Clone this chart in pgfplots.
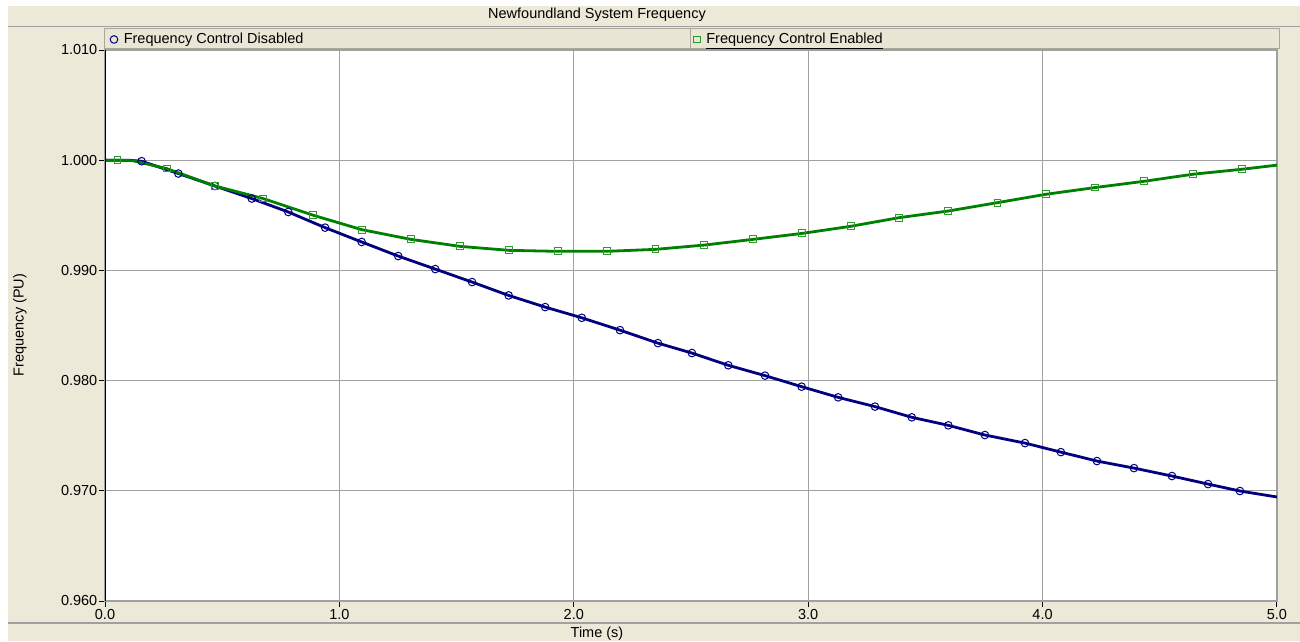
\documentclass[border=0pt]{standalone}
\usepackage{fontspec}
\setmainfont{Liberation Sans}
\usepackage{pgfplots}
\pgfplotsset{compat=1.18}
\definecolor{bg}{HTML}{ECE9D8}
\definecolor{lgbg}{HTML}{EAE6D6}
\definecolor{bord}{HTML}{ACA899}
\definecolor{gridc}{HTML}{A0A0A0}
\definecolor{navyc}{HTML}{000080}
\definecolor{greenc}{HTML}{008000}
\definecolor{sqc}{HTML}{2E9A2E}

\pgfplotstableread{
t f
0.000 1.00000
0.100 1.00000
0.156 0.99991
0.313 0.99879
0.469 0.99766
0.626 0.99652
0.782 0.99530
0.939 0.99388
1.095 0.99258
1.251 0.99130
1.409 0.99012
1.566 0.98894
1.722 0.98773
1.878 0.98667
2.034 0.98570
2.197 0.98458
2.359 0.98340
2.504 0.98250
2.659 0.98139
2.816 0.98045
2.972 0.97945
3.128 0.97848
3.285 0.97764
3.442 0.97667
3.598 0.97594
3.754 0.97506
3.925 0.97433
4.078 0.97351
4.232 0.97270
4.390 0.97206
4.552 0.97134
4.706 0.97061
4.842 0.96998
5.000 0.96944
}\disabledline

\pgfplotstableread{
t f
0.156 0.99991
0.313 0.99879
0.469 0.99766
0.626 0.99652
0.782 0.99530
0.939 0.99388
1.095 0.99258
1.251 0.99130
1.409 0.99012
1.566 0.98894
1.722 0.98773
1.878 0.98667
2.034 0.98570
2.197 0.98458
2.359 0.98340
2.504 0.98250
2.659 0.98139
2.816 0.98045
2.972 0.97945
3.128 0.97848
3.285 0.97764
3.442 0.97667
3.598 0.97594
3.754 0.97506
3.925 0.97433
4.078 0.97351
4.232 0.97270
4.390 0.97206
4.552 0.97134
4.706 0.97061
4.842 0.96998
}\disabledmarks

\pgfplotstableread{
t f
0.000 1.00000
0.053 1.00000
0.120 0.99995
0.263 0.99924
0.469 0.99766
0.675 0.99652
0.889 0.99500
1.095 0.99370
1.304 0.99282
1.515 0.99218
1.724 0.99182
1.931 0.99173
2.140 0.99173
2.349 0.99191
2.557 0.99230
2.766 0.99282
2.975 0.99336
3.181 0.99400
3.389 0.99479
3.598 0.99539
3.808 0.99615
4.015 0.99691
4.225 0.99752
4.434 0.99809
4.643 0.99873
4.851 0.99918
5.000 0.99955
}\enabledline

\pgfplotstableread{
t f
0.053 1.00000
0.263 0.99924
0.469 0.99766
0.675 0.99652
0.889 0.99500
1.095 0.99370
1.304 0.99282
1.515 0.99218
1.724 0.99182
1.931 0.99173
2.140 0.99173
2.349 0.99191
2.557 0.99230
2.766 0.99282
2.975 0.99336
3.181 0.99400
3.389 0.99479
3.598 0.99539
3.808 0.99615
4.015 0.99691
4.225 0.99752
4.434 0.99809
4.643 0.99873
4.851 0.99918
}\enabledmarks

\begin{document}
\fontsize{14.5}{17}\selectfont
\begin{tikzpicture}
\useasboundingbox (0pt,0pt) rectangle (1300pt,641pt);
\fill[white] (0pt,0pt) rectangle (1300pt,641pt);
\fill[bg] (8pt,0pt) rectangle (1300pt,635pt);
\draw[gridc, line width=1.5pt] (8pt,614.5pt) -- (1300pt,614.5pt);
\draw[gridc, line width=1.5pt] (8pt,18pt) -- (1300pt,18pt);
\node at (597pt,626pt) {Newfoundland System Frequency};
\node at (597pt,7.5pt) {Time (s)};
\node[rotate=90] at (20pt,316pt) {Frequency (PU)};
% legend band
\fill[lgbg] (104pt,592pt) rectangle (1279pt,612pt);
\draw[bord, line width=1pt] (104pt,592pt) rectangle (1279pt,612pt);
\draw[bord, line width=1pt] (690pt,592pt) -- (690pt,612pt);
\begin{axis}[
  at={(105pt,40pt)}, anchor=south west,
  scale only axis, width=1172pt, height=551pt,
  xmin=0, xmax=5, ymin=0.96, ymax=1.01,
  xtick={0,1,2,3,4,5},
  ytick={0.960,0.970,0.980,0.990,1.000,1.010},
  /pgf/number format/assume math mode=true,
  xticklabel style={yshift=2.5pt, /pgf/number format/.cd, fixed, fixed zerofill, precision=1},
  yticklabel style={inner xsep=1.5pt, /pgf/number format/.cd, fixed, fixed zerofill, precision=3},
  scaled y ticks=false,
  grid=major, grid style={gridc, line width=1pt},
  axis line style={gridc, line width=1.5pt},
  tick align=outside, xtick pos=lower, ytick pos=left,
  major tick length=6pt, tick style={black, line width=1pt},
  axis background/.style={fill=white},
  legend columns=2,
  legend style={at={(0,1)}, anchor=south west, yshift=1pt, xshift=4pt, draw=none, fill=none,
    inner sep=1pt, font=\fontsize{14.5}{17}\selectfont,
    /tikz/every odd column/.append style={column sep=4pt},
    /tikz/every even column/.append style={column sep=388pt}},
  legend cell align=left,
]
\addplot[navyc, line width=2.8pt, forget plot] table[x=t,y=f] {\disabledline};
\addplot[greenc, line width=2.8pt, forget plot] table[x=t,y=f] {\enabledline};
\addplot[only marks, mark=o, mark size=3.8pt, mark options={navyc, line width=1pt}] table[x=t,y=f] {\disabledmarks};
\addlegendentry{Frequency Control Disabled}
\addplot[only marks, mark=square, mark size=3.4pt, mark options={sqc, line width=1pt}] table[x=t,y=f] {\enabledmarks};
\addlegendentry{\underline{Frequency Control Enabled}}
\draw[black, line width=2.5pt] (rel axis cs:0,0) -- (rel axis cs:0,1);
\end{axis}
\end{tikzpicture}
\end{document}
